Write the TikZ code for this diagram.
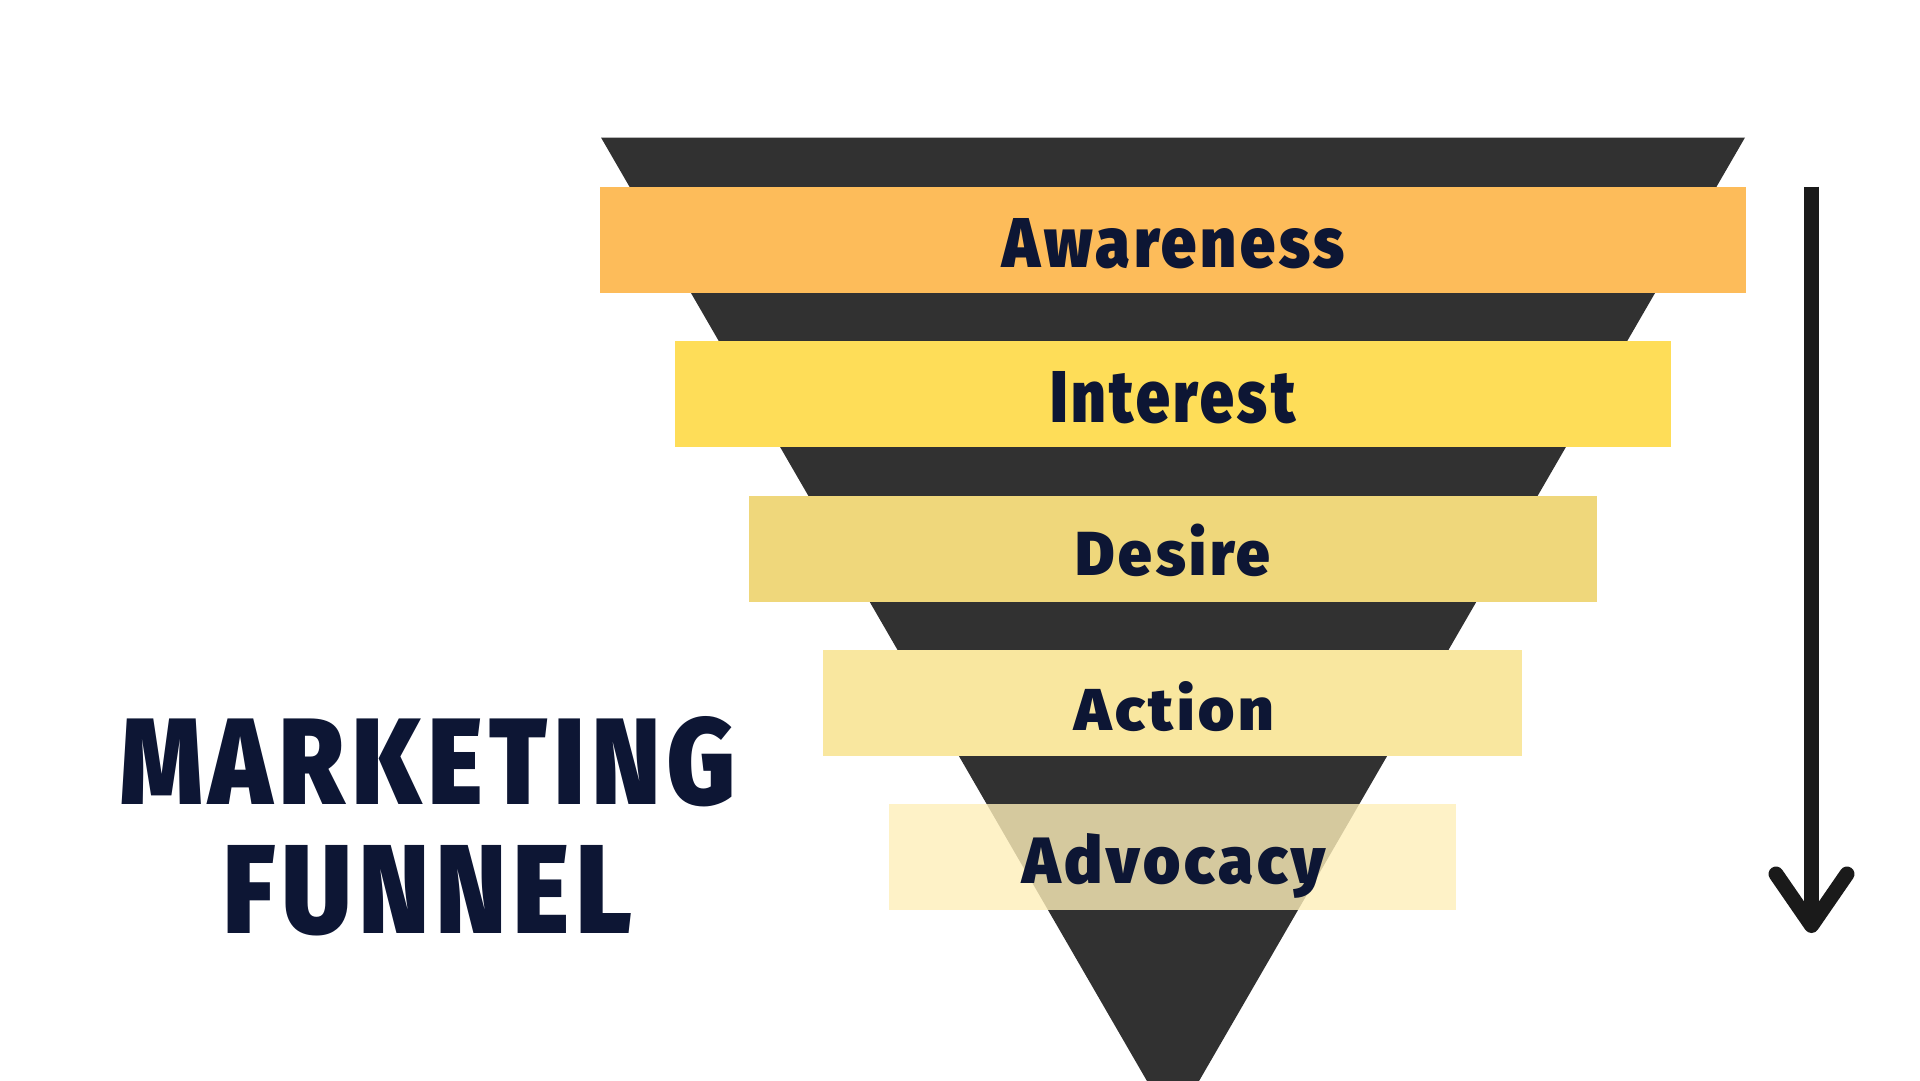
\documentclass[tikz,border=0pt]{standalone}
\usepackage{fontspec}
\usepackage{graphicx}
\newfontfamily\labelfont{Fira Sans Black}[LetterSpace=6]
\newfontfamily\titlefont{Fira Sans Black}[LetterSpace=7]
\definecolor{funneldark}{HTML}{313131}
\definecolor{awarec}{HTML}{FDBC5A}
\definecolor{interc}{HTML}{FEDD58}
\definecolor{desirec}{HTML}{EFD77B}
\definecolor{actionc}{HTML}{F9E79F}
\definecolor{advocc}{HTML}{FEEFBA}
\definecolor{navy}{HTML}{0D1634}
\definecolor{arrowc}{HTML}{1A1A1A}
\tikzset{
  bar/.style={rectangle, inner sep=0pt, minimum height=106pt, draw=none},
  stagelabel/.style={inner sep=0pt, anchor=base, text=navy},
  titletext/.style={inner sep=0pt, anchor=base west, text=navy},
  arrowline/.style={draw=arrowc, line width=15pt},
}
\begin{document}
\begin{tikzpicture}[x=1pt,y=-1pt]
\useasboundingbox (0,0) rectangle (1920,1080);
\fill[white] (0,0) rectangle (1920,1080);
\begin{scope}
\clip (0,0) rectangle (1920,1080);
% funnel
\coordinate (fl) at (601,137.5);
\coordinate (fr) at (1745,137.5);
\coordinate (fapex) at (1173,1126);
\fill[funneldark] (fl) -- (fr) -- (fapex) -- cycle;
% bars
\node[bar, fill=awarec, minimum width=1146pt] (awareness) at (1173,240) {};
\node[bar, fill=interc, minimum width=996pt] (interest) at (1173,394.3) {};
\node[bar, fill=desirec, minimum width=848pt] (desire) at (1173,548.6) {};
\node[bar, fill=actionc, minimum width=699pt] (action) at (1172.5,703) {};
\node[bar, fill=advocc, fill opacity=0.8, minimum width=567pt] (advocacy) at (1172.5,857.2) {};
% labels
\node[stagelabel] (lawareness) at (1174,267) {\resizebox{342pt}{49pt}{\labelfont Awareness}};
\node[stagelabel] (linterest) at (1173,422.5) {\resizebox{245pt}{51pt}{\labelfont Interest}};
\node[stagelabel] (ldesire) at (1173,575.5) {\resizebox{194pt}{51.5pt}{\labelfont Desire}};
\node[stagelabel] (laction) at (1174,730) {\resizebox{199.5pt}{49pt}{\labelfont Action}};
\node[stagelabel] (ladvocacy) at (1174,883) {\resizebox{302.5pt}{50pt}{\labelfont Advocacy}};
% title
\node[titletext] (tmarketing) at (120,804.5) {\resizebox{615pt}{88pt}{\titlefont MARKETING}};
\node[titletext] (tfunnel) at (223,933) {\resizebox{409pt}{88pt}{\titlefont FUNNEL}};
% arrow
\coordinate (atop) at (1811.5,186.7);
\coordinate (atip) at (1811.5,925.5);
\coordinate (aleft) at (1776,874);
\coordinate (aright) at (1847,874);
\draw[arrowline, line cap=butt] (atop) -- (atip);
\draw[arrowline, line cap=round, line join=round] (aleft) -- (atip) -- (aright);
\end{scope}
\end{tikzpicture}
\end{document}
